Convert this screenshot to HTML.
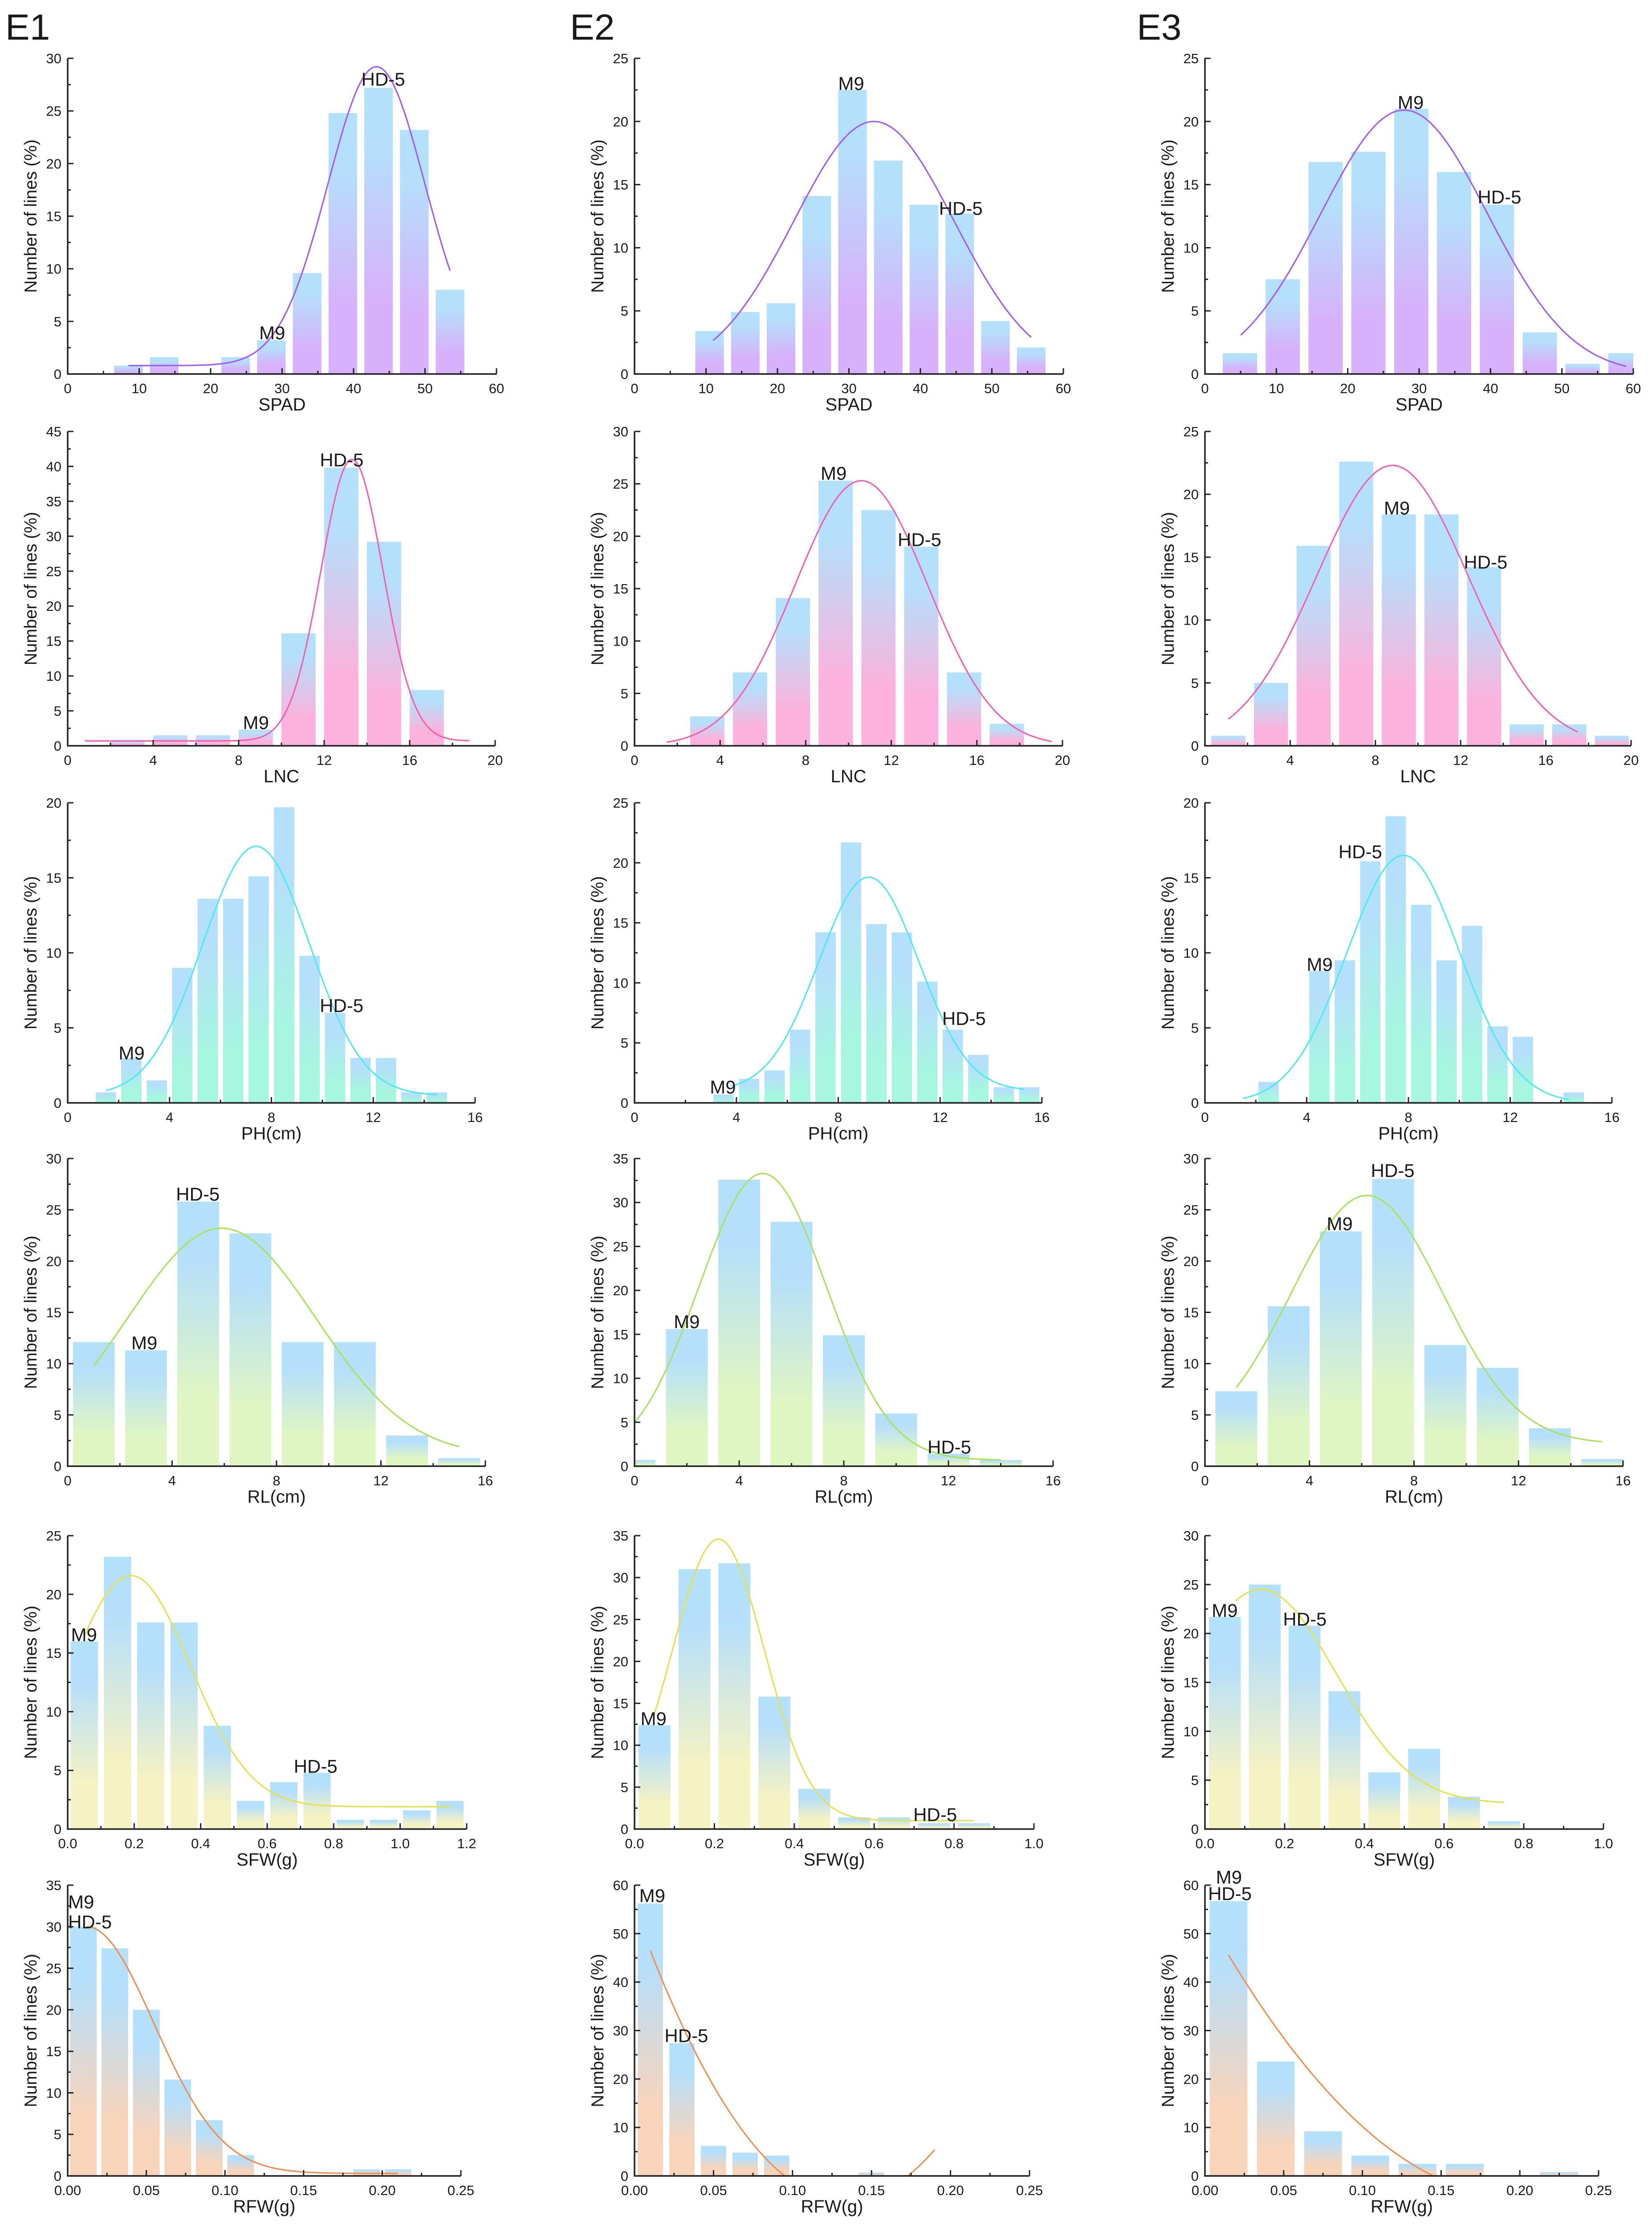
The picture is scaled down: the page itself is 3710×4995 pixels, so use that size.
<!DOCTYPE html>
<html><head><meta charset="utf-8">
<style>
html,body{margin:0;padding:0;background:#fff;}
svg{display:block;}
text{font-family:"Liberation Sans","DejaVu Sans",sans-serif;fill:#1a1a1a;}
</style></head>
<body>
<svg id="fig" width="3710" height="4995" viewBox="0 0 3710 4995" xmlns="http://www.w3.org/2000/svg">
<defs id="defs"></defs>
<text x="12" y="89" font-size="82">E1</text>
<text x="1280" y="89" font-size="82">E2</text>
<text x="2553" y="89" font-size="82">E3</text>
</svg>
<script>
// ---------- data ----------
const e1SpadCenters=[8.5,13.5,23.5,28.5,33.5,38.5,43.5,48.5,53.5];
const e1SpadValues=[0.8,1.6,1.6,3.2,9.6,24.8,27.2,23.2,8.0];
const e1SpadFit=[43.2,6.8,28.4,0.8,8.5,53.5];
const e1SpadLabels=[["HD-5",41.1,27.4],["M9",26.8,3.3]];

const e1LncCenters=[2.8,4.8,6.8,8.8,10.8,12.8,14.8,16.8];
const e1LncValues=[0.7,1.5,1.5,2.3,16.1,39.8,29.2,8.0];
const e1LncFit=[13.3,1.45,40.3,0.7,0.8,18.8];
const e1LncLabels=[["HD-5",11.8,40.0],["M9",8.2,2.4]];

const e1PhCenters=[1.5,2.5,3.5,4.5,5.5,6.5,7.5,8.5,9.5,10.5,11.5,12.5,13.5,14.5];
const e1PhValues=[0.7,3.0,1.5,9.0,13.6,13.6,15.1,19.7,9.8,6.0,3.0,3.0,0.7,0.7];
const e1PhFit=[7.4,2.1,16.6,0.5,1.5,14.5];
const e1PhLabels=[["HD-5",9.9,6.05],["M9",2.0,2.9]];

const e1RlCenters=[1,3,5,7,9,11,13,15];
const e1RlValues=[12.1,11.3,25.8,22.7,12.1,12.1,3.0,0.8];
const e1RlFit=[5.9,3.6,22.2,1.0,1,15];
const e1RlLabels=[["HD-5",4.15,25.9],["M9",2.44,11.4]];

const e1SfwCenters=[0.05,0.15,0.25,0.35,0.45,0.55,0.65,0.75,0.85,0.95,1.05,1.15];
const e1SfwValues=[16.0,23.2,17.6,17.6,8.8,2.4,4.0,4.8,0.8,0.8,1.6,2.4];
const e1SfwFit=[0.19,0.18,19.7,1.9,0.05,1.15];
const e1SfwLabels=[["M9",0.01,16.0],["HD-5",0.68,4.8]];

const e1RfwCenters=[0.01,0.03,0.05,0.07,0.09,0.11,0.19,0.21];
const e1RfwValues=[30.0,27.4,20.0,11.6,6.7,2.5,0.8,0.8];
const e1RfwFit=[0.012,0.043,29.7,0.3,0.012,0.21];
const e1RfwLabels=[["M9",0.0003,32.2],["HD-5",0.0003,29.8]];

const e2SpadCenters=[10.5,15.5,20.5,25.5,30.5,35.5,40.5,45.5,50.5,55.5];
const e2SpadValues=[3.4,4.9,5.6,14.1,22.5,16.9,13.4,12.7,4.2,2.1];
const e2SpadFit=[33.5,11.2,20.0,0,11,55.5];
const e2SpadLabels=[["M9",28.5,22.5],["HD-5",42.6,12.6]];

const e2LncCenters=[3.4,5.4,7.4,9.4,11.4,13.4,15.4,17.4];
const e2LncValues=[2.8,7.0,14.1,25.3,22.5,19.0,7.0,2.1];
const e2LncFit=[10.6,3.1,25.3,0,1.5,19.5];
const e2LncLabels=[["M9",8.7,25.4],["HD-5",12.3,19.05]];

const e2PhCenters=[3.5,4.5,5.5,6.5,7.5,8.5,9.5,10.5,11.5,12.5,13.5,14.5,15.5];
const e2PhValues=[0.7,2.0,2.7,6.1,14.2,21.7,14.9,14.2,10.1,6.1,4.0,1.3,1.3];
const e2PhFit=[9.2,1.96,17.8,1.0,3.8,15.3];
const e2PhLabels=[["M9",2.96,0.78],["HD-5",12.08,6.5]];

const e2RlCenters=[0,2,4,6,8,10,12,14];
const e2RlValues=[0.7,15.6,32.6,27.8,14.9,6.0,1.4,0.7];
const e2RlFit=[4.9,2.43,32.6,0.7,0,14];
const e2RlLabels=[["M9",1.5,15.7],["HD-5",11.2,1.45]];

const e2SfwCenters=[0.05,0.15,0.25,0.35,0.45,0.55,0.65,0.75,0.85];
const e2SfwValues=[12.4,31.0,31.7,15.8,4.8,1.4,1.4,0.7,0.7];
const e2SfwFit=[0.21,0.115,33.6,1.0,0.05,0.85];
const e2SfwLabels=[["M9",0.015,12.4],["HD-5",0.698,0.96]];

const e2RfwCenters=[0.01,0.03,0.05,0.07,0.09,0.15];
const e2RfwValues=[56.2,27.4,6.2,4.8,4.2,0.7];
const e2RfwQuad=[3355,0.095,0.173,0.01,0.19];
const e2RfwLabels=[["M9",0.003,56.5],["HD-5",0.019,27.6]];

const e3SpadCenters=[4.9,10.9,16.9,22.9,28.9,34.9,40.9,46.9,52.9,58.9];
const e3SpadValues=[1.65,7.5,16.8,17.6,21.0,16.0,13.4,3.3,0.8,1.65];
const e3SpadFit=[27.9,11.7,20.9,0,5,59];
const e3SpadLabels=[["M9",27.0,21.0],["HD-5",38.2,13.5]];

const e3LncCenters=[1.1,3.1,5.1,7.1,9.1,11.1,13.1,15.1,17.1,19.1];
const e3LncValues=[0.8,5.0,15.9,22.6,18.4,18.4,14.2,1.7,1.7,0.8];
const e3LncFit=[8.8,3.55,22.3,0,1.1,17.5];
const e3LncLabels=[["M9",8.4,18.4],["HD-5",12.15,14.1]];

const e3PhCenters=[2.5,4.5,5.5,6.5,7.5,8.5,9.5,10.5,11.5,12.5,14.5];
const e3PhValues=[1.4,8.8,9.5,16.1,19.1,13.2,9.5,11.8,5.1,4.4,0.7];
const e3PhFit=[7.8,2.22,16.5,0,1.5,14.3];
const e3PhLabels=[["HD-5",5.25,16.3],["M9",4.0,8.8]];

const e3RlCenters=[1.2,3.2,5.2,7.2,9.2,11.2,13.2,15.2];
const e3RlValues=[7.3,15.6,22.9,28.0,11.8,9.6,3.7,0.7];
const e3RlFit=[6.2,2.9,24.2,2.2,1.2,15.2];
const e3RlLabels=[["HD-5",6.35,28.2],["M9",4.66,23.0]];

const e3SfwCenters=[0.05,0.15,0.25,0.35,0.45,0.55,0.65,0.75];
const e3SfwValues=[21.7,25.0,20.8,14.1,5.8,8.2,3.3,0.8];
const e3SfwFit=[0.14,0.19,21.9,2.6,0.077,0.75];
const e3SfwLabels=[["M9",0.017,21.7],["HD-5",0.196,20.8]];

const e3RfwCenters=[0.015,0.045,0.075,0.105,0.135,0.165,0.225];
const e3RfwValues=[56.7,23.6,9.2,4.2,2.5,2.5,0.8];
const e3RfwQuad=[1458,0.145,0.2556,0.015,0.145];
const e3RfwLabels=[["M9",0.007,60.3],["HD-5",0.002,56.9]];

// ---------- layout (pixels, not data) ----------
const colX0=[152,1425,2706];
const rowBox=[[131,840],[969,1675],[1803,2477],[2602,3293],[3449,4108],[4234,4887]];
const rowX1=[[1115,2388,3668],[1112,2386,3663],[1067,2340,3620],[1090,2365,3645],[1048,2322,3601],[1035,2312,3590]];
const varName=["SPAD","LNC","PH(cm)","RL(cm)","SFW(g)","RFW(g)"];
const varColors=[["#d7b1fb","#a35cf3"],["#fcb2dc","#f460ad"],["#a6f6e0","#4ee9f3"],["#e0f6c2","#a9e257"],["#f5f2c4","#e6e04e"],["#f8d4bb","#f28e4e"]];
const xAxes=[[0,60,10,5,0],[0,20,4,2,0],[0,16,4,2,0],[0,16,4,2,0],null,[0,0.25,0.05,0.025,2]];
const sfwAxes=[[0,1.2,0.2,0.1,1],[0,1.0,0.2,0.1,1],[0,1.0,0.2,0.1,1]];
const yMaxes=[[30,25,25],[45,30,25],[20,25,20],[30,35,30],[25,35,30],[35,60,60]];
const barWidths=[[4,4,4.8],[1.6,1.6,1.6],[0.8,0.8,0.8],[1.6,1.6,1.6],[0.082,0.08,0.08],[0.017,0.016,0.024]];

const panels=[
 [e1SpadCenters,e1SpadValues,e1SpadFit,null,e1SpadLabels],
 [e2SpadCenters,e2SpadValues,e2SpadFit,null,e2SpadLabels],
 [e3SpadCenters,e3SpadValues,e3SpadFit,null,e3SpadLabels],
 [e1LncCenters,e1LncValues,e1LncFit,null,e1LncLabels],
 [e2LncCenters,e2LncValues,e2LncFit,null,e2LncLabels],
 [e3LncCenters,e3LncValues,e3LncFit,null,e3LncLabels],
 [e1PhCenters,e1PhValues,e1PhFit,null,e1PhLabels],
 [e2PhCenters,e2PhValues,e2PhFit,null,e2PhLabels],
 [e3PhCenters,e3PhValues,e3PhFit,null,e3PhLabels],
 [e1RlCenters,e1RlValues,e1RlFit,null,e1RlLabels],
 [e2RlCenters,e2RlValues,e2RlFit,null,e2RlLabels],
 [e3RlCenters,e3RlValues,e3RlFit,null,e3RlLabels],
 [e1SfwCenters,e1SfwValues,e1SfwFit,null,e1SfwLabels],
 [e2SfwCenters,e2SfwValues,e2SfwFit,null,e2SfwLabels],
 [e3SfwCenters,e3SfwValues,e3SfwFit,null,e3SfwLabels],
 [e1RfwCenters,e1RfwValues,e1RfwFit,null,e1RfwLabels],
 [e2RfwCenters,e2RfwValues,null,e2RfwQuad,e2RfwLabels],
 [e3RfwCenters,e3RfwValues,null,e3RfwQuad,e3RfwLabels]
];

const NS="http://www.w3.org/2000/svg";
const svg=document.getElementById('fig');
const defs=document.getElementById('defs');
function mk(tag,attrs,parent){const e=document.createElementNS(NS,tag);for(const k in attrs)e.setAttribute(k,attrs[k]);(parent||svg).appendChild(e);return e;}

// gradients
varColors.forEach((c,i)=>{
  const g=mk('linearGradient',{id:'grad'+i,x1:0,y1:0,x2:0,y2:1},defs);
  mk('stop',{offset:'0','stop-color':'#b3e0fb'},g);
  mk('stop',{offset:'0.22','stop-color':'#b5dffb'},g);
  mk('stop',{offset:'0.75','stop-color':c[0]},g);
  mk('stop',{offset:'1','stop-color':c[0]},g);
});

function fmt(v,d){return d?v.toFixed(d):String(Math.round(v));}

panels.forEach((p,idx)=>{
  const row=Math.floor(idx/3), col=idx%3;
  const [centers,values,fit,quad,labels]=p;
  const ax=row===4?sfwAxes[col]:xAxes[row];
  const [xmin,xmax,xstep,xminor,dec]=ax;
  const px0=colX0[col], px1=rowX1[row][col];
  const pyTop=rowBox[row][0], pyBot=rowBox[row][1];
  const ymax=yMaxes[row][col];
  const X=v=>px0+(v-xmin)/(xmax-xmin)*(px1-px0);
  const Y=v=>pyBot-(v/ymax)*(pyBot-pyTop);
  const g=mk('g',{});
  
  
  // bars
  const bw=barWidths[row][col];
  centers.forEach((c,i)=>{
    let l=Math.max(X(c-bw/2),px0), r=Math.min(X(c+bw/2),px1);
    const v=values[i];
    const b=mk('rect',{x:l,y:Y(v),width:r-l,height:pyBot-Y(v),fill:'url(#grad'+row+')'},g);
    
    
  });
  // fit curve
  let segs=[],cur=[];
  if(fit){
    const [mu,sd,amp,base,f0,f1]=fit;
    for(let k=0;k<=200;k++){const x=f0+(f1-f0)*k/200;const y=base+amp*Math.exp(-(x-mu)*(x-mu)/(2*sd*sd));cur.push(X(x).toFixed(1)+','+Y(y).toFixed(1));}
    segs.push(cur);
  } else {
    const [kk,r1,r2,f0,f1]=quad;
    for(let k=0;k<=300;k++){const x=f0+(f1-f0)*k/300;const y=kk*(x-r1)*(x-r2);
      if(y>=0){cur.push(X(x).toFixed(1)+','+Y(y).toFixed(1));}else if(cur.length){segs.push(cur);cur=[];}}
    if(cur.length)segs.push(cur);
  }
  segs.forEach(s=>{
    const pl=mk('polyline',{points:s.join(' '),fill:'none',stroke:varColors[row][1],'stroke-width':3.2},g);
    
    
  });
  // axes
  const axis=mk('path',{d:`M${px0},${pyTop}V${pyBot}H${px1}`,fill:'none',stroke:'#222','stroke-width':3.5},g);
  
  
  // y ticks
  const ystep=ymax>=60?10:5;
  for(let v=0;v<=ymax+1e-9;v+=ystep/2){
    const major=Math.abs(v/ystep-Math.round(v/ystep))<1e-6;
    mk('line',{x1:px0,x2:px0+(major?13:7),y1:Y(v),y2:Y(v),stroke:'#222','stroke-width':3},g);
    if(major){
      const t=mk('text',{x:px0-14,y:Y(v)+11,'font-size':31,'text-anchor':'end'},g);
      t.textContent=String(Math.round(v));
      
      
    }
  }
  // x ticks
  const n=Math.round((xmax-xmin)/xminor);
  for(let k=0;k<=n;k++){
    const v=xmin+k*xminor;
    const major=Math.abs(v/xstep-Math.round(v/xstep))<1e-6;
    mk('line',{x1:X(v),x2:X(v),y1:pyBot,y2:pyBot-(major?13:7),stroke:'#222','stroke-width':3},g);
    if(major){
      const t=mk('text',{x:X(v),y:pyBot+43,'font-size':31,'text-anchor':'middle'},g);
      t.textContent=fmt(v,dec);
      
      
    }
  }
  // axis titles
  const xt=mk('text',{x:(px0+px1)/2,y:pyBot+82,'font-size':40,'text-anchor':'middle'},g);
  xt.textContent=varName[row];
  
  
  const ycx=px0-84, ycy=(pyTop+pyBot)/2;
  const yt=mk('text',{x:ycx,y:ycy,'font-size':39,'text-anchor':'middle',transform:`rotate(-90 ${ycx} ${ycy}) translate(0 14)`},g);
  yt.textContent='Number of lines (%)';
  
  
  // cultivar labels
  labels.forEach(L=>{
    const t=mk('text',{x:X(L[1]),y:Y(L[2]),'font-size':42},g);
    t.textContent=L[0];
    
    
  });
});
</script>
</body></html>
